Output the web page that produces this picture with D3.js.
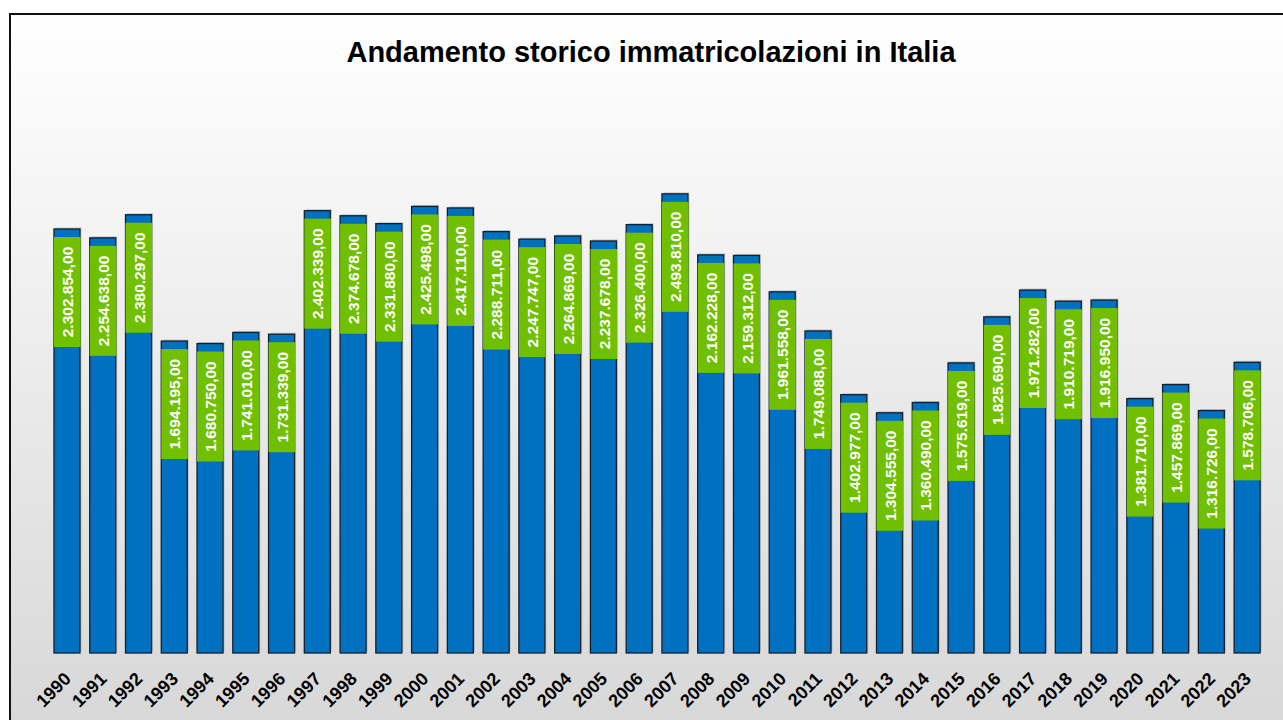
<!DOCTYPE html>
<html>
<head>
<meta charset="utf-8">
<script src="https://cdn.jsdelivr.net/npm/d3@7"></script>
<style>
  body { margin: 0; background: #fff; }
  svg { display: block; font-family: "Liberation Sans", Arial, sans-serif; }
</style>
</head>
<body>
<div id="chart"></div>
<script>
// immatricolazioni per anno
const years = ["1990","1991","1992","1993","1994","1995","1996","1997","1998","1999",
  "2000","2001","2002","2003","2004","2005","2006","2007","2008","2009",
  "2010","2011","2012","2013","2014","2015","2016","2017","2018","2019",
  "2020","2021","2022","2023"];
const registrations = [2302854, 2254638, 2380297, 1694195, 1680750, 1741010, 1731339, 2402339, 2374678, 2331880,
  2425498, 2417110, 2288711, 2247747, 2264869, 2237678, 2326400, 2493810, 2162228, 2159312,
  1961558, 1749088, 1402977, 1304555, 1360490, 1575619, 1825690, 1971282, 1910719, 1916950,
  1381710, 1457869, 1316726, 1578706];
const title = "Andamento storico immatricolazioni in Italia";

const W = 1283, H = 720;
const baseY = 653;
const data = years.map((y, i) => ({ year: y, value: registrations[i] }));

const it = d3.formatLocale({ decimal: ",", thousands: ".", grouping: [3], currency: ["", " €"] });
const fmt = it.format(",.2f");

const svg = d3.select("#chart").append("svg")
  .attr("width", W).attr("height", H);

const defs = svg.append("defs");
const grad = defs.append("linearGradient")
  .attr("id", "bg").attr("x1", 0).attr("y1", 0).attr("x2", 0).attr("y2", 1);
grad.append("stop").attr("offset", "0%").attr("stop-color", "#ffffff");
grad.append("stop").attr("offset", "100%").attr("stop-color", "#d6d6d6");

// frame
svg.append("rect")
  .attr("x", 10).attr("y", 14).attr("width", W + 20).attr("height", H + 20)
  .attr("fill", "url(#bg)")
  .attr("stroke", "#111").attr("stroke-width", 2);

svg.append("text")
  .attr("x", 651).attr("y", 62)
  .attr("text-anchor", "middle")
  .style("font-size", "29px").style("font-weight", "bold")
  .text(title);

// scales
const x = d3.scaleBand()
  .domain(years)
  .range([49.1, 1265])
  .paddingInner(0.273)
  .paddingOuter(0.1365);

const y = d3.scaleLinear()
  .domain([0, 3000000])
  .range([baseY, baseY - 3000000 * 424 / 2302854]);

const bw = x.bandwidth();

const g = svg.append("g");

// shadow
g.selectAll(".shadow")
  .data(data).enter().append("rect")
  .attr("class", "shadow")
  .attr("x", d => x(d.year) + 1.5)
  .attr("y", d => y(d.value) - 1.5)
  .attr("width", bw)
  .attr("height", d => baseY - y(d.value))
  .attr("fill", "#9a9a9a").attr("opacity", 0.5);

g.selectAll(".bar")
  .data(data).enter().append("rect")
  .attr("class", "bar")
  .attr("x", d => x(d.year))
  .attr("y", d => y(d.value))
  .attr("width", bw)
  .attr("height", d => baseY - y(d.value))
  .attr("fill", "#0070c0")
  .attr("stroke", "#13202c").attr("stroke-width", 1.3);

// green data label boxes
const boxH = 110, boxOff = 8;
g.selectAll(".lblbox")
  .data(data).enter().append("rect")
  .attr("class", "lblbox")
  .attr("x", d => x(d.year))
  .attr("y", d => y(d.value) + boxOff)
  .attr("width", bw + 0.6)
  .attr("height", boxH)
  .attr("fill", "#70bf00");

g.selectAll(".lbl")
  .data(data).enter().append("text")
  .attr("class", "lbl")
  .attr("transform", d => `translate(${x(d.year) + bw / 2 + 0.5},${y(d.value) + boxOff + boxH / 2}) rotate(-90)`)
  .attr("text-anchor", "middle")
  .attr("dy", "0.36em")
  .attr("fill", "#fff")
  .style("font-size", "15.5px").style("font-weight", "bold")
  .text(d => fmt(d.value));

// year labels
g.selectAll(".year")
  .data(data).enter().append("text")
  .attr("class", "year")
  .attr("transform", d => `translate(${x(d.year) + bw / 2 + 5},${baseY + 27}) rotate(-45)`)
  .attr("text-anchor", "end")
  .attr("fill", "#000")
  .style("font-size", "18px").style("font-weight", "bold")
  .text(d => d.year);
</script>
</body>
</html>
